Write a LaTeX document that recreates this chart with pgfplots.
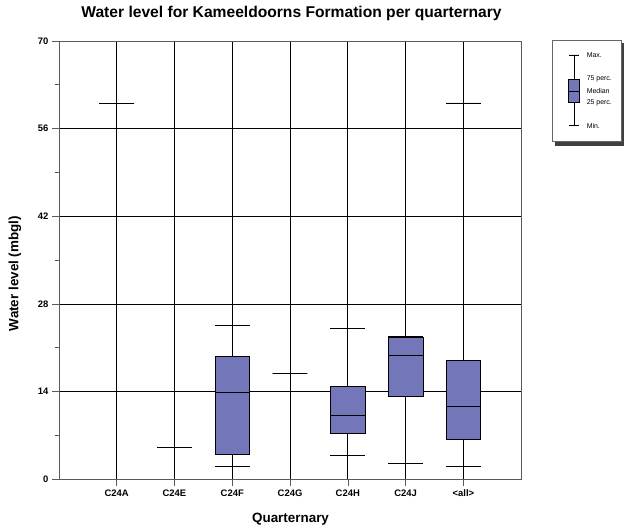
\documentclass[border=0pt]{standalone}
\usepackage{fontspec}
\setmainfont{Liberation Sans}
\usepackage{pgfplots}
\pgfplotsset{compat=1.18}
\usepgfplotslibrary{statistics}
\definecolor{boxfill}{RGB}{115,119,185}
\definecolor{axisgray}{RGB}{90,90,90}

\begin{document}
\begin{tikzpicture}
% page frame
\path (0bp,0bp) rectangle (624bp,531bp);
% title and axis labels
\node[font=\bfseries\fontsize{15.7}{18}\selectfont] at (292bp,518bp) {Water level for Kameeldoorns Formation per quarternary};
\node[font=\bfseries\fontsize{13.5}{16}\selectfont] at (291bp,11bp) {Quarternary};
\node[font=\bfseries\fontsize{13.5}{16}\selectfont, rotate=90] at (15bp,257bp) {Water level (mbgl)};
% legend frame with shadow
\fill[black!75] (556bp,385bp) rectangle (625bp,488bp);
\filldraw[fill=white, draw=black!60, line width=0.6bp] (553bp,389bp) rectangle (622bp,491bp);

\begin{axis}[
  at={(59bp,51bp)}, anchor=south west,
  scale only axis, width=463bp, height=439bp,
  xmin=0, xmax=8, ymin=0, ymax=70,
  xtick={1,...,7},
  xticklabels={C24A,C24E,C24F,C24G,C24H,C24J,{<all>}},
  ytick={0,14,...,70},
  minor ytick={7,21,...,63},
  tick align=outside,
  xtick pos=bottom, ytick pos=left,
  major tick length=7bp, minor tick length=4bp,
  tick style={axisgray, line width=0.6bp},
  xmajorgrids, ymajorgrids,
  major grid style={black, line width=0.7bp},
  axis line style={axisgray, line width=0.8bp},
  /pgf/number format/assume math mode=true,
  tick label style={font=\bfseries\fontsize{9.5}{11}\selectfont},
  boxplot/draw direction=y,
  boxplot/box extend=0.6,
  boxplot/whisker extend=0.6,
]
% C24A: single value
\addplot[black, line width=0.7bp, boxplot prepared={draw position=1,
  lower whisker=60.1, lower quartile=60.1, median=60.1, upper quartile=60.1, upper whisker=60.1}]
  coordinates {};
% C24E: single value
\addplot[black, line width=0.7bp, boxplot prepared={draw position=2,
  lower whisker=5.1, lower quartile=5.1, median=5.1, upper quartile=5.1, upper whisker=5.1}]
  coordinates {};
% C24F
\addplot[black, line width=0.7bp, fill=boxfill, boxplot prepared={draw position=3,
  lower whisker=2.1, lower quartile=3.9, median=13.9, upper quartile=19.6, upper whisker=24.6}]
  coordinates {};
% C24G: single value
\addplot[black, line width=0.7bp, boxplot prepared={draw position=4,
  lower whisker=16.9, lower quartile=16.9, median=16.9, upper quartile=16.9, upper whisker=16.9}]
  coordinates {};
% C24H
\addplot[black, line width=0.7bp, fill=boxfill, boxplot prepared={draw position=5,
  lower whisker=3.8, lower quartile=7.3, median=10.2, upper quartile=14.9, upper whisker=24.1}]
  coordinates {};
% C24J
\addplot[black, line width=0.7bp, fill=boxfill, boxplot prepared={draw position=6,
  lower whisker=2.55, lower quartile=13.3, median=19.8, upper quartile=22.7, upper whisker=22.85}]
  coordinates {};
% all quarternaries
\addplot[black, line width=0.7bp, fill=boxfill, boxplot prepared={draw position=7,
  lower whisker=2.1, lower quartile=6.4, median=11.7, upper quartile=19.0, upper whisker=60.1}]
  coordinates {};
\end{axis}

% legend key: a sample box with its labels
\begin{axis}[
  at={(553bp,389bp)}, anchor=south west,
  scale only axis, width=69bp, height=102bp,
  xmin=0, xmax=1, ymin=0, ymax=1,
  hide axis,
  boxplot/draw direction=y,
  boxplot/box extend=0.155,
  boxplot/whisker extend=0.14,
]
\addplot[black, line width=0.6bp, fill=boxfill, boxplot prepared={draw position=0.319,
  lower whisker=0.157, lower quartile=0.385, median=0.5, upper quartile=0.618, upper whisker=0.853}]
  coordinates {};
\begin{scope}[every node/.style={anchor=west, inner sep=0pt, font=\fontsize{7}{8}\selectfont}]
\node at (axis cs:0.5,0.853) {Max.};
\node at (axis cs:0.5,0.618) {75 perc.};
\node at (axis cs:0.5,0.5) {Median};
\node at (axis cs:0.5,0.385) {25 perc.};
\node at (axis cs:0.5,0.157) {Min.};
\end{scope}
\end{axis}
\end{tikzpicture}
\end{document}
